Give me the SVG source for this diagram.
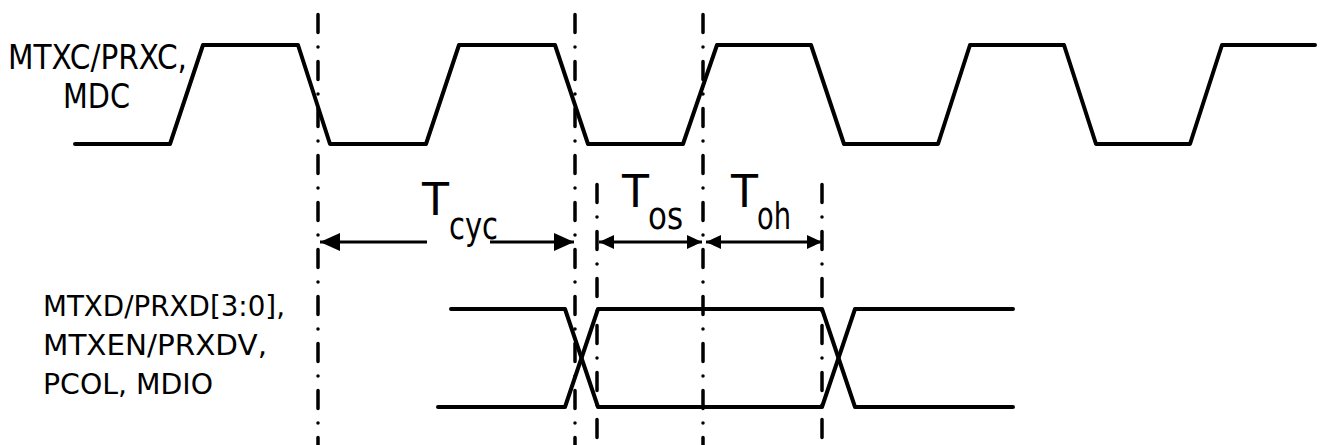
<svg xmlns="http://www.w3.org/2000/svg" width="1332" height="445" viewBox="0 0 1332 445">
<style>
.sig{fill:none;stroke:#000;stroke-width:4;stroke-linejoin:round;stroke-linecap:round}
.grid{fill:none;stroke:#000;stroke-width:3.5;stroke-linecap:round;stroke-dasharray:18 14.5 0 14.5}
.dim{fill:none;stroke:#000;stroke-width:3}
.lbl{font-family:"DejaVu Sans","Liberation Sans",sans-serif;fill:#000}
</style>
<defs>
<marker id="ah" viewBox="0 0 20 18" refX="20" refY="9" markerWidth="20" markerHeight="18" markerUnits="userSpaceOnUse" orient="auto-start-reverse">
<path d="M0,0 L20,9 L0,18 Z" fill="#000"/>
</marker>
<marker id="as" viewBox="0 0 15 14" refX="15" refY="7" markerWidth="15" markerHeight="14" markerUnits="userSpaceOnUse" orient="auto-start-reverse">
<path d="M0,0 L15,7 L0,14 Z" fill="#000"/>
</marker>
</defs>
<rect width="1332" height="445" fill="#fff"/>
<g id="gridlines">
<line class="grid" x1="318" y1="14.5" x2="318" y2="445"/>
<line class="grid" x1="575" y1="14.5" x2="575" y2="445"/>
<line class="grid" x1="703" y1="14.5" x2="703" y2="445"/>
<line class="grid" x1="597" y1="184.5" x2="597" y2="445"/>
<line class="grid" x1="822" y1="184.5" x2="822" y2="445"/>
</g>
<g id="clock">
<polyline class="sig" points="75,144 170,144 203,45 298,45 330,144 426,144 459,45 555,45 588,144 683,144 717,45 811,45 844,144 938,144 970,45 1064,45 1096,144 1190,144 1222,45 1315,45"/>
<text class="lbl" font-size="33" x="8" y="69" textLength="179" lengthAdjust="spacingAndGlyphs">MTXC/PRXC,</text>
<text class="lbl" font-size="33" x="63" y="108" textLength="67" lengthAdjust="spacingAndGlyphs">MDC</text>
</g>
<g id="data">
<polyline class="sig" points="451,309 565,309 598,407 822,407 855,309 1013,309"/>
<polyline class="sig" points="438,407 565,407 598,309 822,309 855,407 1013,407"/>
<text class="lbl" font-size="29" x="43" y="316" textLength="242" lengthAdjust="spacingAndGlyphs">MTXD/PRXD[3:0],</text>
<text class="lbl" font-size="29" x="43" y="355" textLength="224" lengthAdjust="spacingAndGlyphs">MTXEN/PRXDV,</text>
<text class="lbl" font-size="29" x="43" y="394" textLength="170" lengthAdjust="spacingAndGlyphs">PCOL, MDIO</text>
</g>
<g id="connectors">
<line class="dim" x1="427" y1="242" x2="320" y2="242" marker-end="url(#ah)"/>
<line class="dim" x1="490" y1="242" x2="574" y2="242" marker-end="url(#ah)"/>
<line class="dim" x1="599" y1="242" x2="702" y2="242" marker-start="url(#as)" marker-end="url(#as)"/>
<line class="dim" x1="706" y1="242" x2="822" y2="242" marker-start="url(#as)" marker-end="url(#as)"/>
</g>
<g id="tcyc">
<text class="lbl" font-size="45" x="422" y="215" textLength="27" lengthAdjust="spacingAndGlyphs">T</text>
<text class="lbl" font-size="38" x="449" y="239" textLength="49" lengthAdjust="spacingAndGlyphs">cyc</text>
</g>
<g id="tos">
<text class="lbl" font-size="45" x="622" y="207" textLength="27" lengthAdjust="spacingAndGlyphs">T</text>
<text class="lbl" font-size="38" x="648" y="229" textLength="35" lengthAdjust="spacingAndGlyphs">os</text>
</g>
<g id="toh">
<text class="lbl" font-size="45" x="731" y="207" textLength="27" lengthAdjust="spacingAndGlyphs">T</text>
<text class="lbl" font-size="38" x="757" y="229" textLength="34" lengthAdjust="spacingAndGlyphs">oh</text>
</g>
</svg>
